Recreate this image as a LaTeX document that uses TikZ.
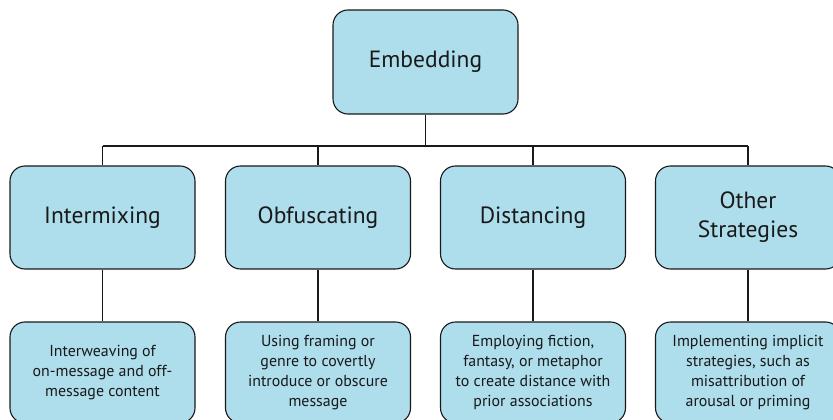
\documentclass[tikz,border=0pt]{standalone}
\usepackage{fontspec}
\setmainfont{PT Sans}
\definecolor{boxblue}{RGB}{174,221,236}
\definecolor{ink}{RGB}{25,25,25}
\begin{document}
\begin{tikzpicture}[x=1pt,y=-1pt,
  box/.style={draw=ink,fill=boxblue,rounded corners=15pt,line width=1.1pt,
    minimum width=185pt,text=ink,align=center,inner sep=2pt},
  topbox/.style={box,minimum height=104pt,font=\fontsize{23.5}{29}\selectfont},
  midbox/.style={box,minimum height=103pt,font=\fontsize{23.5}{29}\selectfont},
  lowbox/.style={box,minimum height=101pt,font=\fontsize{15.9}{20}\selectfont},
  link/.style={draw=ink,line width=1.1pt},
  trunk/.style={draw=ink,line width=1.8pt}]
\useasboundingbox (0,0) rectangle (833,420);
\clip (0,0) rectangle (833,420);
\node[topbox] (emb) at (425.5,62) {Embedding};
\node[midbox] (a) at (102.5,217.5) {Intermixing};
\node[midbox] (b) at (318,217.5) {Obfuscating};
\node[midbox] (c) at (533,217.5) {Distancing};
\node[midbox] (d) at (748,217.5) {Other\\Strategies};
\node[lowbox] (a3) at (102.5,372.5) {Interweaving of\\on-message and off-\\message content};
\node[lowbox] (b3) at (318,372.5) {Using framing or\\genre to covertly\\introduce or obscure\\message};
\node[lowbox] (c3) at (533,372.5) {Employing fiction,\\fantasy, or metaphor\\to create distance with\\prior associations};
\node[lowbox] (d3) at (748,372.5) {Implementing implicit\\strategies, such as\\misattribution of\\arousal or priming};
\coordinate (bar) at (425.5,146);
\draw[trunk] (emb.south) -- (bar);
\draw[trunk] (bar) -- (c.north |- bar);
\draw[link] (a.north |- bar) -- (bar);
\draw[link] (c.north |- bar) -- (d.north |- bar);
\foreach \n in {a,b,c,d} {
  \draw[link] (\n.north |- bar) -- (\n.north);
  \draw[link] (\n.south) -- (\n3.north);
}
\end{tikzpicture}
\end{document}
